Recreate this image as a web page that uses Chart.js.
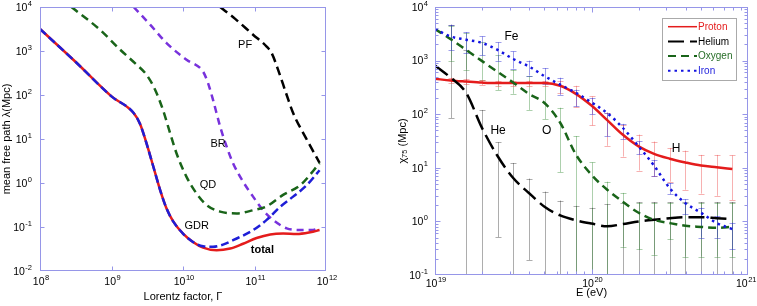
<!DOCTYPE html>
<html><head><meta charset="utf-8">
<script src="https://cdn.jsdelivr.net/npm/chart.js@4.4.1/dist/chart.umd.min.js"></script>
<style>
html,body{margin:0;padding:0;background:#fff;overflow:hidden}
canvas{position:absolute;top:0}
</style></head><body>
<canvas id="left" width="380" height="306" style="left:0"></canvas>
<canvas id="right" width="377" height="306" style="left:380px"></canvas>
<script>
// ===== Left panel: mean free path vs Lorentz factor =====
const gammaTotal  = [1e8, 3.16e8, 1e9, 2.04e9, 2.51e9, 3.09e9, 3.85e9, 4.79e9, 5.89e9, 7.33e9, 1e10, 1.38e10, 1.91e10, 2.95e10, 4.57e10, 6.92e10, 1.07e11, 1.66e11, 2.51e11, 3.89e11, 6.03e11, 8.13e11];
const lambdaTotal = [3160, 562, 93, 38.9, 21.9, 7.94, 2.34, 0.69, 0.263, 0.132, 0.0708, 0.0457, 0.0339, 0.0295, 0.0324, 0.0417, 0.0562, 0.0676, 0.0708, 0.0692, 0.0759, 0.0851];
const gammaGDR    = [1e8, 3.16e8, 1e9, 2.04e9, 2.51e9, 3.09e9, 3.85e9, 4.79e9, 5.89e9, 7.33e9, 1e10, 1.38e10, 1.91e10, 2.63e10, 3.63e10, 5.01e10, 9.55e10, 1.48e11, 2.29e11, 3.47e11, 5.37e11, 8.13e11];
const lambdaGDR   = [3160, 562, 93, 38.9, 21.9, 7.94, 2.34, 0.69, 0.263, 0.132, 0.0708, 0.0457, 0.0363, 0.0355, 0.0398, 0.0501, 0.0851, 0.145, 0.288, 0.49, 0.891, 1.95];
const gammaQD     = [2.75e8, 6.92e8, 1.32e9, 2.24e9, 3.09e9, 4.07e9, 5.25e9, 6.61e9, 8.13e9, 1.12e10, 1.55e10, 2.14e10, 3.31e10, 5.62e10, 9.55e10, 1.48e11, 2.51e11, 4.37e11, 8.13e11];
const lambdaQD    = [1e4, 3020, 1072, 490, 288, 132, 45.7, 13.5, 4.68, 1.38, 0.575, 0.316, 0.224, 0.204, 0.240, 0.295, 0.537, 0.891, 2.82];
const gammaBR     = [2.04e9, 3.47e9, 5.89e9, 1.12e10, 1.91e10, 2.24e10, 2.63e10, 3.31e10, 4.07e10, 5.01e10, 6.92e10, 9.55e10, 1.32e11, 1.82e11, 2.82e11, 4.37e11, 6.61e11, 8.13e11];
const lambdaBR    = [1e4, 3981, 1514, 631, 339, 186, 77.6, 19.1, 6.76, 2.82, 1.07, 0.49, 0.24, 0.145, 0.0933, 0.0851, 0.0851, 0.0977];
const gammaPF     = [3.31e10, 5.37e10, 9.55e10, 1.48e11, 1.74e11, 2.14e11, 2.82e11, 3.47e11, 5.25e11, 8.13e11];
const lambdaPF    = [1e4, 5370, 2344, 1259, 891, 372, 100, 38.9, 10.5, 2.88];
const leftXTicks  = [1e8, 1e9, 1e10, 1e11, 1e12];
const leftXExp    = ['8', '9', '10', '11', '12'];
const leftYTicks  = [1e-2, 1e-1, 1, 1e1, 1e2, 1e3, 1e4];
const leftYExp    = ['-2', '-1', '0', '1', '2', '3', '4'];
const leftNotes   = [
  {text: 'PF', x: 7.4e10, y: 1380},
  {text: 'BR', x: 3.1e10, y: 7.7},
  {text: 'QD', x: 2.24e10, y: 0.89},
  {text: 'GDR', x: 1.55e10, y: 0.107},
  {text: 'total', x: 1.29e11, y: 0.0295, bold: true}
];

// ===== Right panel: chi_75 vs energy =====
const energy   = [1e19, 1.26e19, 1.58e19, 2e19, 2.51e19, 3.16e19, 3.98e19, 5.01e19, 6.31e19, 7.94e19, 1e20, 1.26e20, 1.58e20, 2e20, 2.51e20, 3.16e20, 3.98e20, 5.01e20, 6.31e20, 7.94e20];
const proton   = [457, 427, 407, 389, 380, 380, 380, 380, 339, 240, 145, 77.6, 41.7, 25.1, 18.2, 14.8, 12.6, 11.0, 10.2, 9.5];
const helium   = [813, 479, 251, 55, 16.6, 6.46, 3.39, 1.88, 1.29, 1.05, 0.91, 0.81, 0.89, 1.0, 1.07, 1.15, 1.2, 1.2, 1.15, 1.1];
const oxygen   = [3890, 2512, 1585, 977, 617, 389, 240, 162, 69.2, 17.8, 7.41, 3.89, 2.34, 1.45, 1.07, 0.93, 0.83, 0.79, 0.76, 0.79];
const iron     = [3890, 2818, 2455, 2138, 1585, 1072, 776, 513, 355, 251, 166, 105, 56.2, 25.1, 11.0, 4.17, 2.19, 1.45, 0.93, 0.72];
const protonLo = [null, 380, 365, 350, 340, 340, 340, 340, 251, 135, 61.7, 25.7, 16.2, 8.9, 6.9, 5.5, 3.9, 3.3, 3.0, 2.5];
const protonHi = [null, 480, 455, 435, 425, 425, 425, 425, 417, 339, 214, 107, 63, 41.7, 30.9, 23.4, 20.9, 17.4, 17.4, 17.0];
const heliumLo = [null, 85, 0.01, 0.01, 0.51, 0.01, 0.19, 0.01, 0.01, 0.01, 0.01, 0.01, 0.01, 0.01, 0.01, 0.01, 0.01, 0.01, 0.01, 0.01];
const heliumHi = [null, 4677, 1585, 120, 30, 12.3, 6.3, 3.6, 2.45, 1.95, 1.8, 2.1, 2.2, 2.3, 2.3, 2.3, 2.3, 2.3, 2.3, 2.3];
const oxygenLo = [null, 1000, 676, 437, 282, 240, 120, 81, 8.3, 0.01, 0.01, 0.01, 0.34, 0.3, 0.24, 0.46, 0.22, 0.22, 0.22, 0.22];
const oxygenHi = [null, 4365, 3236, 2188, 1259, 676, 513, 407, 132, 39, 12.6, 5.5, 3.4, 2.2, 2.2, 2.2, 2.2, 2.2, 2.2, 2.2];
const ironLo   = [null, 1585, 1413, 1259, 1000, 708, 525, 372, 229, 141, 100, 39, 35, 17.8, 6.9, 3.2, 1.35, 0.5, 0.5, 0.3];
const ironHi   = [null, 4677, 3388, 2818, 2188, 1479, 1000, 724, 479, 288, 200, 107, 66, 31, 14, 5.2, 2.6, 1.8, 1.26, 0.95];
const rightXTicks = [1e19, 1e20, 1e21];
const rightXExp   = ['19', '20', '21'];
const rightYTicks = [1e-1, 1, 1e1, 1e2, 1e3, 1e4];
const rightYExp   = ['-1', '0', '1', '2', '3', '4'];
const rightNotes  = [
  {text: 'Fe', x: 3.08e19, y: 2820},
  {text: 'He', x: 2.53e19, y: 50},
  {text: 'O', x: 5.17e19, y: 50},
  {text: 'H', x: 3.47e20, y: 23}
];
const legendOrder = ['Proton', 'Helium', 'Oxygen', 'Iron'];

// ===== helpers =====
const FONT = '"Liberation Sans", Arial, Helvetica, sans-serif';
const FRAME = 'rgb(150,150,232)';
const pts = (xs, ys) => xs.map((v, i) => ({x: v, y: ys[i]}));

function superLabel(ctx, exp, x, y, align, maxRight) {
  const bs = 10.5, es = 7.5;
  ctx.font = bs + 'px ' + FONT;
  const wb = ctx.measureText('10').width;
  ctx.font = es + 'px ' + FONT;
  const we = ctx.measureText(exp).width;
  const total = wb + we + 0.5;
  let x0 = align === 'right' ? x - total : x - total / 2;
  if (maxRight && x0 + total > maxRight) x0 = maxRight - total;
  ctx.textAlign = 'left';
  ctx.textBaseline = 'middle';
  ctx.fillStyle = '#000';
  ctx.font = bs + 'px ' + FONT;
  ctx.fillText('10', x0, y);
  ctx.font = es + 'px ' + FONT;
  ctx.fillText(exp, x0 + wb + 0.5, y - 4.5);
}

function makeFrame(cfg) {
  return {
    id: 'frame',
    afterDraw(chart) {
      const {ctx, chartArea: a, scales: {x, y}} = chart;
      const L = Math.round(a.left) + 0.5, R = Math.round(a.right) - 0.5;
      const T = Math.round(a.top) + 0.5, B = Math.round(a.bottom) - 0.5;
      ctx.save();
      ctx.strokeStyle = FRAME; ctx.lineWidth = 1;
      ctx.strokeRect(L, T, R - L, B - T);
      ctx.beginPath();
      const tickX = (v, len) => { const p = Math.round(x.getPixelForValue(v)) + 0.5; if (p < L - 0.1 || p > R + 0.1) return; ctx.moveTo(p, B); ctx.lineTo(p, B - len); ctx.moveTo(p, T); ctx.lineTo(p, T + len); };
      const tickY = (v, len) => { const p = Math.round(y.getPixelForValue(v)) + 0.5; if (p < T - 0.1 || p > B + 0.1) return; ctx.moveTo(L, p); ctx.lineTo(L + len, p); ctx.moveTo(R, p); ctx.lineTo(R - len, p); };
      cfg.xTicks.forEach((v, i) => {
        tickX(v, cfg.major);
        if (cfg.minor && i < cfg.xTicks.length - 1) for (let m = 2; m <= 9; m++) tickX(v * m, cfg.minor);
      });
      cfg.yTicks.forEach((v, i) => {
        tickY(v, cfg.major);
        if (cfg.minor && i < cfg.yTicks.length - 1) for (let m = 2; m <= 9; m++) tickY(v * m, cfg.minor);
      });
      ctx.stroke();
      cfg.xTicks.forEach((v, i) => superLabel(ctx, cfg.xExp[i], x.getPixelForValue(v) + 1, a.bottom + cfg.xOff, 'center', chart.width - 0.5));
      cfg.yTicks.forEach((v, i) => superLabel(ctx, cfg.yExp[i], a.left - cfg.yGap, y.getPixelForValue(v) + 1, 'right'));
      ctx.restore();
    }
  };
}

function makeNotes(items, size) {
  return {
    id: 'notes',
    afterDatasetsDraw(chart) {
      const {ctx, scales: {x, y}} = chart;
      ctx.save();
      ctx.fillStyle = '#000'; ctx.textAlign = 'center'; ctx.textBaseline = 'middle';
      items.forEach(n => {
        ctx.font = (n.bold ? 'bold ' : '') + size + 'px ' + FONT;
        ctx.fillText(n.text, x.getPixelForValue(n.x), y.getPixelForValue(n.y));
      });
      ctx.restore();
    }
  };
}

function makeErrorBars(list) {
  return {
    id: 'errbars',
    beforeDatasetsDraw(chart) {
      const {ctx, chartArea: a, scales: {x, y}} = chart;
      ctx.save();
      ctx.beginPath(); ctx.rect(a.left, a.top, a.right - a.left, a.bottom - a.top); ctx.clip();
      ctx.lineWidth = 1;
      list.forEach(s => {
        ctx.strokeStyle = s.color;
        ctx.beginPath();
        s.x.forEach((xv, i) => {
          if (s.lo[i] == null) return;
          const px = Math.round(x.getPixelForValue(xv)) + 0.5;
          const yl = y.getPixelForValue(s.lo[i]), yh = y.getPixelForValue(s.hi[i]);
          ctx.moveTo(px, yl); ctx.lineTo(px, yh);
          ctx.moveTo(px - 3, Math.round(yh) + 0.5); ctx.lineTo(px + 3, Math.round(yh) + 0.5);
          if (yl < a.bottom - 1) { ctx.moveTo(px - 3, Math.round(yl) + 0.5); ctx.lineTo(px + 3, Math.round(yl) + 0.5); }
        });
        ctx.stroke();
      });
      ctx.restore();
    }
  };
}

function makeLegend(order) {
  return {
    id: 'boxlegend',
    afterDraw(chart) {
      const {ctx, chartArea: a} = chart;
      const bx = a.right - 86, by = a.top + 11, bw = 74, bh = 62;
      ctx.save();
      ctx.fillStyle = '#fff';
      ctx.fillRect(bx, by, bw, bh);
      ctx.strokeStyle = 'rgb(170,170,170)'; ctx.lineWidth = 1;
      ctx.strokeRect(Math.round(bx) + 0.5, Math.round(by) + 0.5, bw, bh);
      order.forEach((name, k) => {
        const ds = chart.data.datasets.find(d => d.label === name);
        const yy = by + 8.7 + k * 14.7;
        ctx.beginPath();
        ctx.strokeStyle = ds.borderColor; ctx.lineWidth = ds.legendWidth || 2;
        ctx.setLineDash(ds.borderDash || []);
        ctx.moveTo(bx + 6, yy); ctx.lineTo(bx + 35, yy);
        ctx.stroke();
        ctx.setLineDash([]);
        ctx.fillStyle = ds.textColor;
        ctx.font = '10px ' + FONT; ctx.textAlign = 'left'; ctx.textBaseline = 'middle';
        ctx.fillText(name, bx + 36, yy + 0.5);
      });
      ctx.restore();
    }
  };
}

function logScales(xmin, xmax, ymin, ymax, yW, xH, xTitle, yTitle, yTitlePad, xTitlePad) {
  const titleFont = {family: FONT, size: 11, lineHeight: 1.2};
  return {
    x: {type: 'logarithmic', min: xmin, max: xmax, grid: {display: false}, border: {display: false},
        ticks: {display: false}, afterFit: s => { s.height = xH; },
        title: {display: true, text: xTitle, color: '#000', font: titleFont, padding: {top: 0, bottom: xTitlePad}}},
    y: {type: 'logarithmic', min: ymin, max: ymax, grid: {display: false}, border: {display: false},
        ticks: {display: false}, afterFit: s => { s.width = yW; },
        title: {display: true, text: yTitle, color: '#000', font: titleFont, padding: {top: yTitlePad, bottom: 0}}}
  };
}

const lineDS = (label, data, color, width, dash, extra) => Object.assign({
  label, data, borderColor: color, backgroundColor: color, borderWidth: width, borderDash: dash,
  showLine: true, pointRadius: 0, pointHoverRadius: 0, fill: false, cubicInterpolationMode: 'monotone', borderCapStyle: 'butt'
}, extra || {});

// ===== Left chart =====
new Chart(document.getElementById('left'), {
  type: 'scatter',
  data: {datasets: [
    lineDS('GDR', pts(gammaGDR, lambdaGDR), 'rgb(30,30,215)', 2.5, [8, 4]),
    lineDS('total', pts(gammaTotal, lambdaTotal), 'rgb(228,28,28)', 2.5, []),
    lineDS('QD', pts(gammaQD, lambdaQD), 'rgb(25,100,25)', 2.5, [8, 5]),
    lineDS('BR', pts(gammaBR, lambdaBR), 'rgb(120,50,220)', 2.5, [7, 5]),
    lineDS('PF', pts(gammaPF, lambdaPF), 'rgb(0,0,0)', 2.5, [9, 5])
  ]},
  options: {
    responsive: false, animation: false, events: [],
    layout: {padding: {left: 0, right: 54, top: 7, bottom: 0}},
    plugins: {legend: {display: false}, tooltip: {enabled: false}},
    scales: logScales(1e8, 1e12, 1e-2, 1e4, 40, 35, 'Lorentz factor, Γ', 'mean free path λ(Mpc)', 0, 2)
  },
  plugins: [makeFrame({xTicks: leftXTicks, xExp: leftXExp, yTicks: leftYTicks, yExp: leftYExp, major: 4, minor: 0, xOff: 11, yGap: 8}),
            makeNotes(leftNotes, 11)]
});

// ===== Right chart =====
new Chart(document.getElementById('right'), {
  type: 'scatter',
  data: {datasets: [
    lineDS('Iron', pts(energy, iron), 'rgb(20,20,225)', 2.5, [2.5, 4], {textColor: 'rgb(30,30,220)', legendWidth: 2}),
    lineDS('Oxygen', pts(energy, oxygen), 'rgb(25,100,25)', 2.5, [8, 5], {textColor: 'rgb(40,110,40)', legendWidth: 2}),
    lineDS('Helium', pts(energy, helium), 'rgb(0,0,0)', 2.5, [16, 6], {textColor: 'rgb(0,0,0)', legendWidth: 2}),
    lineDS('Proton', pts(energy, proton), 'rgb(228,28,28)', 2.5, [], {textColor: 'rgb(228,28,28)', legendWidth: 1.5})
  ]},
  options: {
    responsive: false, animation: false, events: [],
    layout: {padding: {left: 0, right: 9, top: 7, bottom: 0}},
    plugins: {legend: {display: false}, tooltip: {enabled: false}},
    scales: logScales(1e19, 1e21, 1e-1, 1e4, 55, 31, 'E (eV)', 'χ₇₅ (Mpc)', 16, 6)
  },
  plugins: [makeErrorBars([
              {x: energy, lo: heliumLo, hi: heliumHi, color: 'rgba(0,0,0,0.32)'},
              {x: energy, lo: oxygenLo, hi: oxygenHi, color: 'rgba(20,120,20,0.35)'},
              {x: energy, lo: protonLo, hi: protonHi, color: 'rgba(235,60,60,0.4)'},
              {x: energy, lo: ironLo, hi: ironHi, color: 'rgba(40,40,210,0.45)'}
            ]),
            makeFrame({xTicks: rightXTicks, xExp: rightXExp, yTicks: rightYTicks, yExp: rightYExp, major: 5, minor: 3, xOff: 9, yGap: 7}),
            makeNotes(rightNotes, 12),
            makeLegend(legendOrder)]
});
</script>
</body></html>
